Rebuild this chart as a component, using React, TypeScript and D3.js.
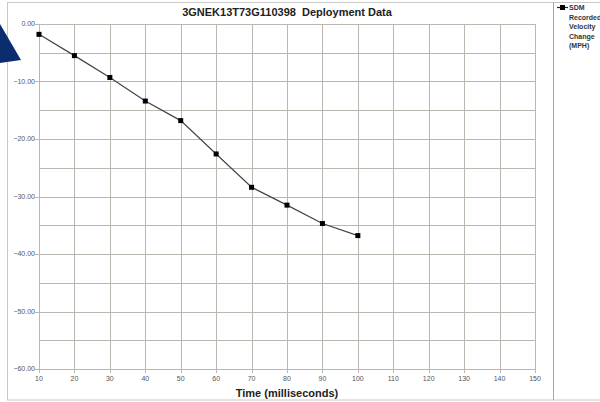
import { useEffect, useRef } from 'react';
import * as d3 from 'd3';

const times = [10, 20, 30, 40, 50, 60, 70, 80, 90, 100];
const velocityChange = [-1.8, -5.5, -9.3, -13.4, -16.8, -22.6, -28.4, -31.5, -34.7, -36.8];
const xTicks = [10, 20, 30, 40, 50, 60, 70, 80, 90, 100, 110, 120, 130, 140, 150];
const yTicks = [0, -10, -20, -30, -40, -50, -60];
const yGrid = [0, -5, -10, -15, -20, -25, -30, -35, -40, -45, -50, -55, -60];
const legendLines = ['SDM', 'Recorded', 'Velocity', 'Change', '(MPH)'];

const FONT = 'Arial, "Liberation Sans", sans-serif';
const GRID = '#b8b8b0';

export default function App() {
  const svgRef = useRef<SVGSVGElement>(null);

  useEffect(() => {
    const svg = d3.select(svgRef.current);
    if (!svg.node()) return;
    svg.selectAll('*').remove();

    const width = 600;
    const height = 402;
    const margin = { top: 24, right: 65, bottom: 33, left: 39 };

    const x = d3.scaleLinear().domain([10, 150]).range([margin.left, width - margin.right]);
    const y = d3.scaleLinear().domain([0, -60]).range([margin.top, height - margin.bottom]);

    svg.append('rect').attr('width', width).attr('height', height).attr('fill', '#fff');

    // outer frame and legend separator
    svg.append('rect')
      .attr('x', 7.5).attr('y', 2.5).attr('width', 620).attr('height', 397.5)
      .attr('fill', 'none').attr('stroke', '#c8c8c8');
    svg.append('line')
      .attr('x1', 553.5).attr('x2', 553.5).attr('y1', 2).attr('y2', 400)
      .attr('stroke', '#a8a8a8');

    // slide decoration
    svg.append('polygon')
      .attr('points', '0,24 21,60 0,63')
      .attr('fill', '#0b2d6e');

    const g = svg.append('g');

    // horizontal grid
    g.selectAll('line.hg')
      .data(yGrid)
      .join('line')
      .attr('class', 'hg')
      .attr('x1', (d) => (d % 10 === 0 ? x(10) - 4 : x(10)))
      .attr('x2', x(150))
      .attr('y1', (d) => Math.round(y(d)) + 0.5)
      .attr('y2', (d) => Math.round(y(d)) + 0.5)
      .attr('stroke', GRID);

    // vertical grid
    g.selectAll('line.vg')
      .data(xTicks)
      .join('line')
      .attr('class', 'vg')
      .attr('x1', (d) => Math.round(x(d)) + 0.5)
      .attr('x2', (d) => Math.round(x(d)) + 0.5)
      .attr('y1', y(0))
      .attr('y2', y(-60) + 4)
      .attr('stroke', GRID);

    g.selectAll('text.yt')
      .data(yTicks)
      .join('text')
      .attr('class', 'yt')
      .attr('x', x(10) - 4)
      .attr('y', (d) => y(d) + 2)
      .attr('text-anchor', 'end')
      .attr('font-family', FONT)
      .attr('font-size', 7)
      .attr('fill', '#555')
      .text((d) => d3.format('.2f')(d));

    g.selectAll('text.xt')
      .data(xTicks)
      .join('text')
      .attr('class', 'xt')
      .attr('x', (d) => x(d))
      .attr('y', y(-60) + 12)
      .attr('text-anchor', 'middle')
      .attr('font-family', FONT)
      .attr('font-size', 7)
      .attr('fill', '#555')
      .text((d) => `${d}`);

    const pts = times.map((t, i) => [t, velocityChange[i]] as [number, number]);

    g.append('path')
      .datum(pts)
      .attr('fill', 'none')
      .attr('stroke', '#444')
      .attr('stroke-width', 1.2)
      .attr('d', d3.line<[number, number]>().x((d) => x(d[0])).y((d) => y(d[1])));

    g.selectAll('rect.pt')
      .data(pts)
      .join('rect')
      .attr('class', 'pt')
      .attr('x', (d) => x(d[0]) - 2.5)
      .attr('y', (d) => y(d[1]) - 2.5)
      .attr('width', 5)
      .attr('height', 5)
      .attr('fill', '#000');

    svg.append('text')
      .attr('x', 287)
      .attr('y', 16)
      .attr('text-anchor', 'middle')
      .attr('font-family', FONT)
      .attr('font-size', 11)
      .attr('font-weight', 'bold')
      .attr('fill', '#222')
      .attr('xml:space', 'preserve')
      .text('3GNEK13T73G110398  Deployment Data');

    svg.append('text')
      .attr('x', 287)
      .attr('y', 397)
      .attr('text-anchor', 'middle')
      .attr('font-family', FONT)
      .attr('font-size', 11)
      .attr('font-weight', 'bold')
      .attr('fill', '#222')
      .text('Time (milliseconds)');

    // legend
    const lg = svg.append('g');
    lg.append('line')
      .attr('x1', 557).attr('x2', 568).attr('y1', 7.5).attr('y2', 7.5)
      .attr('stroke', '#222').attr('stroke-width', 1.2);
    lg.append('rect')
      .attr('x', 560).attr('y', 5).attr('width', 5).attr('height', 5).attr('fill', '#000');
    lg.selectAll('text')
      .data(legendLines)
      .join('text')
      .attr('x', 569)
      .attr('y', (_, i) => 10 + i * 9.5)
      .attr('font-family', FONT)
      .attr('font-size', 7)
      .attr('font-weight', 'bold')
      .attr('fill', '#333')
      .text((d) => d);
  }, []);

  return (
    <svg
      ref={svgRef}
      width={600}
      height={402}
      style={{ position: 'fixed', left: 0, top: 0, display: 'block' }}
    />
  );
}
